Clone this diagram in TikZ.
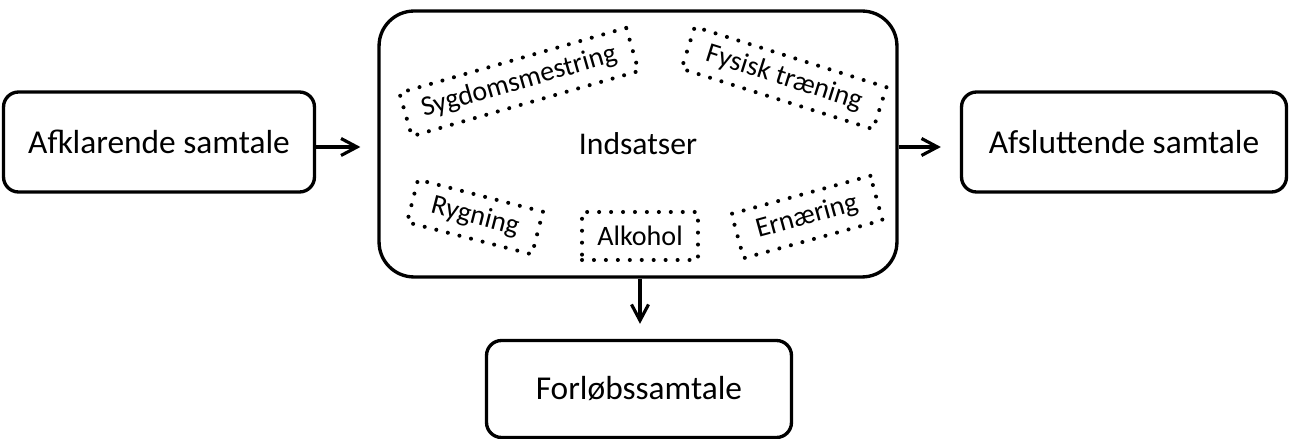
\documentclass[tikz,border=0pt]{standalone}
\usepackage{fontspec}
\setmainfont{Carlito}
\usetikzlibrary{arrows.meta}

\tikzset{
  mainbox/.style={draw, line width=1.9pt, rounded corners=0.3cm, align=center, font=\fontsize{19}{22}\selectfont, fill=white},
  dotbox/.style={draw, line width=2.3pt, line cap=round, dash pattern=on 0pt off 6.8pt, inner sep=0pt, font=\fontsize{16}{19}\selectfont},
  flow/.style={line width=1.8pt, -{Straight Barb[length=0.32cm, width=0.34cm, line width=1.8pt]}}
}

\begin{document}
\begin{tikzpicture}[x=0.02cm, y=0.02cm]
\useasboundingbox (0,0) rectangle (1289,439);

% Main steps
\node[mainbox, minimum width=6.22cm, minimum height=2cm] (afklar) at (159,297) {Afklarende samtale};
\node[mainbox, minimum width=10.36cm, minimum height=5.32cm, rounded corners=0.7cm, font=\fontsize{18}{21}\selectfont] (indsats) at (638,295) {Indsatser};
\node[mainbox, minimum width=6.5cm, minimum height=2cm] (afslut) at (1124,297) {Afsluttende samtale};
\node[mainbox, minimum width=6.1cm, minimum height=1.94cm] (forlob) at (639,50) {Forløbssamtale};

% Interventions
\node[dotbox, rotate=16, minimum width=4.72cm, minimum height=0.9cm] (sygdom) at (519,357) {Sygdomsmestring};
\node[dotbox, rotate=-17.5, minimum width=4.02cm, minimum height=0.88cm] (fysisk) at (784,361) {Fysisk træning};
\node[dotbox, rotate=-14.4, minimum width=2.58cm, minimum height=0.88cm] (rygning) at (475,222) {Rygning};
\node[dotbox, minimum width=2.32cm, minimum height=0.96cm] (alkohol) at (640,203) {Alkohol};
\node[dotbox, rotate=15.3, minimum width=2.88cm, minimum height=0.92cm] (ernaering) at (807,222) {Ernæring};

% Connectors
\draw[flow, shorten >=0.34cm] (afklar.east |- 0,292) -- (indsats.west |- 0,292);
\draw[flow, shorten >=0.38cm] (indsats.east |- 0,292) -- (afslut.west |- 0,292);
\draw[flow, shorten >=0.3cm] (indsats.south -| 640,0) -- (forlob.north -| 640,0);
\end{tikzpicture}
\end{document}
